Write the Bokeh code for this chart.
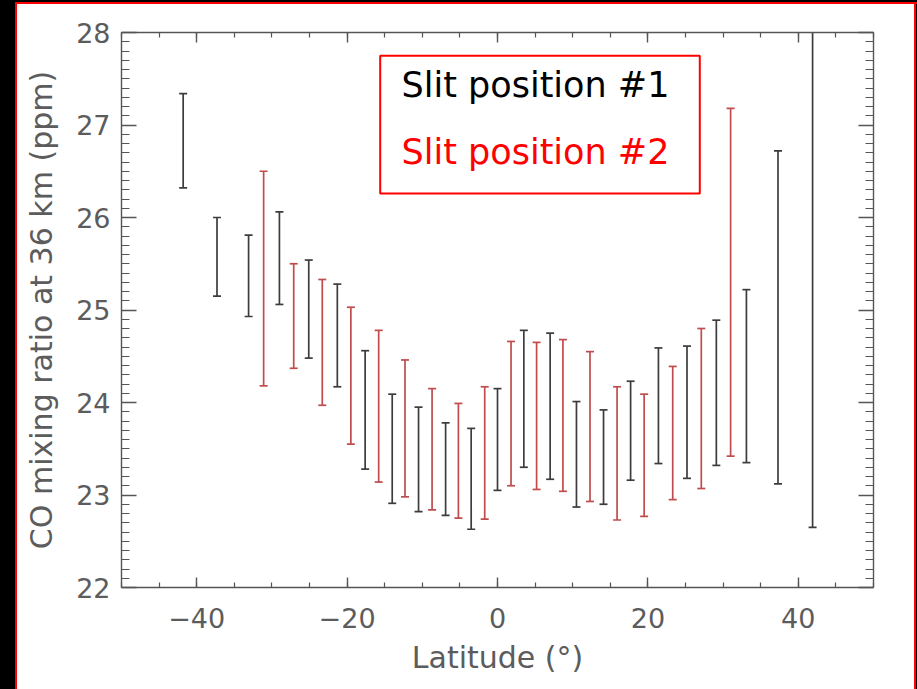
from bokeh.plotting import figure
from bokeh.models import (ColumnDataSource, Range1d, LinearAxis, SingleIntervalTicker,
                          BoxAnnotation, Label)
from bokeh.embed import file_html
from bokeh.resources import INLINE

# Slit position #1 (black): latitude, lower and upper CO mixing ratio (ppm)
lat1 = [-41.8, -37.3, -33.1, -29.0, -25.1, -21.3, -17.6, -14.0, -10.5, -6.9, -3.5,
        0.0, 3.5, 7.0, 10.5, 14.1, 17.7, 21.4, 25.2, 29.1, 33.1, 37.3, 41.9]
lo1 = [26.32, 25.15, 24.93, 25.06, 24.48, 24.17, 23.28, 22.91, 22.82, 22.78, 22.63,
       23.05, 23.30, 23.17, 22.87, 22.90, 23.16, 23.34, 23.18, 23.32, 23.35, 23.12, 22.65]
hi1 = [27.34, 26.00, 25.81, 26.06, 25.54, 25.28, 24.56, 24.09, 23.95, 23.78, 23.72,
       24.15, 24.78, 24.75, 24.01, 23.92, 24.23, 24.59, 24.61, 24.89, 25.22, 26.72, 29.40]

# Slit position #2 (red)
lat2 = [-31.1, -27.1, -23.3, -19.5, -15.8, -12.3, -8.7, -5.2, -1.7,
        1.8, 5.2, 8.7, 12.3, 15.9, 19.5, 23.3, 27.1, 31.0]
lo2 = [24.18, 24.37, 23.97, 23.55, 23.14, 22.98, 22.84, 22.75, 22.74,
       23.10, 23.06, 23.04, 22.93, 22.73, 22.77, 22.95, 23.07, 23.42]
hi2 = [26.50, 25.50, 25.33, 25.03, 24.78, 24.46, 24.15, 23.99, 24.17,
       24.66, 24.65, 24.68, 24.55, 24.17, 24.09, 24.39, 24.80, 27.18]

x_title = "Latitude (°)"
y_title = "CO mixing ratio at 36 km (ppm)"
legend_lines = ["Slit position #1", "Slit position #2"]

AX = "#555555"
LBL = "#5c5c5c"
C1 = "#3c3c3c"
C2 = "#bf4d4d"

p = figure(width=917, height=689, output_backend="svg", toolbar_location=None,
           x_range=Range1d(-50, 50), y_range=Range1d(22, 28),
           x_axis_location=None, y_axis_location=None,
           min_border_left=121, min_border_right=44, min_border_top=32, min_border_bottom=102)
p.xgrid.visible = False
p.ygrid.visible = False
p.outline_line_color = None
p.background_fill_color = "white"
p.border_fill_color = None
# white panel with a red rule on a black page edge (drawn under the transparent margins)
p.styles = {
    "background-color": "#ffffff",
    "box-shadow": ("inset 15px 2px 0 0 #000000, inset 17px 4px 0 0 #ff0000, "
                   "inset -1px 0 0 0 #000000, inset -3px 0 0 0 #ff0000"),
}


def style_axis(ax, major_in, minor_in, labels=True):
    ax.axis_line_color = AX
    ax.axis_line_width = 1.4
    ax.major_tick_line_color = AX
    ax.minor_tick_line_color = AX
    ax.major_tick_line_width = 1.4
    ax.minor_tick_line_width = 1.2
    ax.major_tick_in = major_in
    ax.major_tick_out = 0
    ax.minor_tick_in = minor_in
    ax.minor_tick_out = 0
    ax.major_label_text_font = "DejaVu Sans"
    ax.major_label_text_font_size = "27px"
    ax.major_label_text_color = LBL if labels else None
    ax.axis_label_text_font = "DejaVu Sans"
    ax.axis_label_text_font_size = "30px"
    ax.axis_label_text_font_style = "normal"
    ax.axis_label_text_color = LBL


xt = lambda: SingleIntervalTicker(interval=20, num_minor_ticks=4)
yt = lambda: SingleIntervalTicker(interval=1, num_minor_ticks=10)
minus = {-40: "\u221240", -20: "\u221220"}

xb = LinearAxis(ticker=xt(), axis_label=x_title, major_label_overrides=minus)
style_axis(xb, 10, 5)
xb.major_label_standoff = 20
xb.axis_label_standoff = 9
p.add_layout(xb, "below")

xa = LinearAxis(ticker=xt())
style_axis(xa, 10, 5, labels=False)
p.add_layout(xa, "above")

yl = LinearAxis(ticker=yt(), axis_label=y_title)
style_axis(yl, 15, 8)
yl.major_label_standoff = 11
yl.axis_label_standoff = 14
p.add_layout(yl, "left")

yr = LinearAxis(ticker=yt())
style_axis(yr, 15, 8, labels=False)
p.add_layout(yr, "right")

# error bars: vertical segments with short caps
s1 = ColumnDataSource(dict(x=lat1, lo=lo1, hi=hi1))
s2 = ColumnDataSource(dict(x=lat2, lo=lo2, hi=hi2))
for src, col in ((s1, C1), (s2, C2)):
    p.segment(x0="x", y0="lo", x1="x", y1="hi", source=src, line_color=col, line_width=1.7)
    p.scatter(x="x", y="lo", source=src, marker="dash", size=8, line_color=col, line_width=1.7)
    p.scatter(x="x", y="hi", source=src, marker="dash", size=8, line_color=col, line_width=1.7)

# legend box
p.add_layout(BoxAnnotation(left=-15.6, right=26.9, top=27.75, bottom=26.26,
                           fill_alpha=0, line_color="#ff0000", line_alpha=1, line_width=2))
for txt, yy, col in ((legend_lines[0], 27.43, "black"), (legend_lines[1], 26.71, "#ff0000")):
    p.add_layout(Label(x=-12.76, y=yy, text=txt, text_font="DejaVu Sans",
                       text_font_size="35px", text_color=col, text_baseline="alphabetic"))

open("out.html", "w").write(file_html(p, INLINE))
